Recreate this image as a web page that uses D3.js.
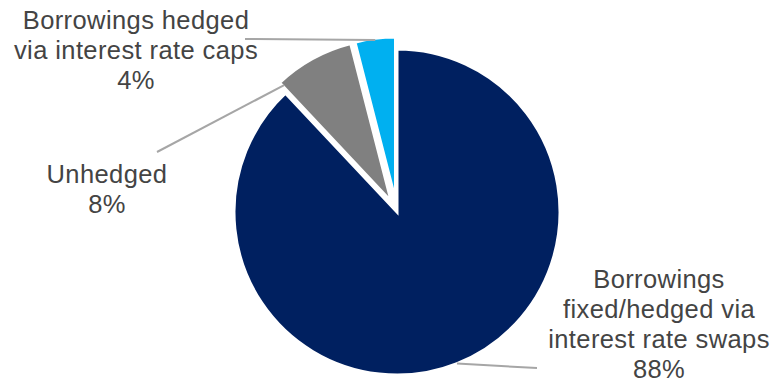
<!DOCTYPE html>
<html>
<head>
<meta charset="utf-8">
<script src="https://cdn.jsdelivr.net/npm/d3@7"></script>
<style>
  html, body { margin: 0; padding: 0; background: #ffffff; }
  svg { display: block; }
  text { font-family: "Liberation Sans", Arial, sans-serif; fill: #444444; }
</style>
</head>
<body>
<svg id="chart" width="773" height="384"></svg>
<script>
// Debt hedging split, in percent of borrowings
const categories = [
  "Borrowings fixed/hedged via interest rate swaps",
  "Unhedged",
  "Borrowings hedged via interest rate caps"
];
const shares = [88, 8, 4];
const labelLines = [
  ["Borrowings", "fixed/hedged via", "interest rate swaps"],
  ["Unhedged"],
  ["Borrowings hedged", "via interest rate caps"]
];
const sliceColors = ["#002060", "#808080", "#00B0F0"];

const width = 773, height = 384;
const cx = 397, cy = 212, radius = 163;
const explode = [0, 12, 12];

// Label block placement (centre x, first baseline y) and leader geometry
const layout = [
  { x: 659, y: 288, leaderAngleOffset: 0.5, leaderR: 1.0, leaderEnd: [537, 368] },
  { x: 107, y: 183, leaderAngleOffset: 0.0, leaderR: 0.97, leaderEnd: [157, 152], useStart: true },
  { x: 136, y: 29, leaderAngleOffset: 0.5, leaderR: 0.99, leaderEnd: [245, 39] }
];
const lineHeight = 30;

const svg = d3.select("#chart");
const g = svg.append("g").attr("transform", `translate(${cx},${cy})`);

const pie = d3.pie().sort(null).startAngle(0).endAngle(2 * Math.PI);
const arcs = pie(shares);
const arc = d3.arc().innerRadius(0).outerRadius(radius);

function offsetFor(d, i) {
  const mid = (d.startAngle + d.endAngle) / 2;
  return [Math.sin(mid) * explode[i], -Math.cos(mid) * explode[i]];
}

g.selectAll("path.slice")
  .data(arcs)
  .join("path")
  .attr("class", "slice")
  .attr("d", arc)
  .attr("transform", (d, i) => {
    const [dx, dy] = offsetFor(d, i);
    return `translate(${dx},${dy})`;
  })
  .attr("fill", (d, i) => sliceColors[i])
  .attr("stroke", "#ffffff")
  .attr("stroke-width", 3)
  .attr("stroke-linejoin", "miter");

// Leader lines from slice edge to label
arcs.forEach((d, i) => {
  const L = layout[i];
  const [ox, oy] = offsetFor(d, i);
  const ang = L.useStart ? d.startAngle + 0.01 : d.startAngle + (d.endAngle - d.startAngle) * L.leaderAngleOffset;
  const r = radius * L.leaderR;
  const x0 = cx + ox + Math.sin(ang) * r;
  const y0 = cy + oy - Math.cos(ang) * r;
  svg.append("line")
    .attr("x1", x0).attr("y1", y0)
    .attr("x2", L.leaderEnd[0]).attr("y2", L.leaderEnd[1])
    .attr("stroke", "#A6A6A6")
    .attr("stroke-width", 2);
});

// Category labels with percentage
arcs.forEach((d, i) => {
  const L = layout[i];
  const lines = labelLines[i].concat([shares[i] + "%"]);
  const t = svg.append("text")
    .attr("text-anchor", "middle")
    .attr("font-size", "25.5px")
    .attr("letter-spacing", "0.4px");
  lines.forEach((s, k) => {
    t.append("tspan")
      .attr("x", L.x)
      .attr("y", L.y + k * lineHeight)
      .text(s);
  });
});
</script>
</body>
</html>
